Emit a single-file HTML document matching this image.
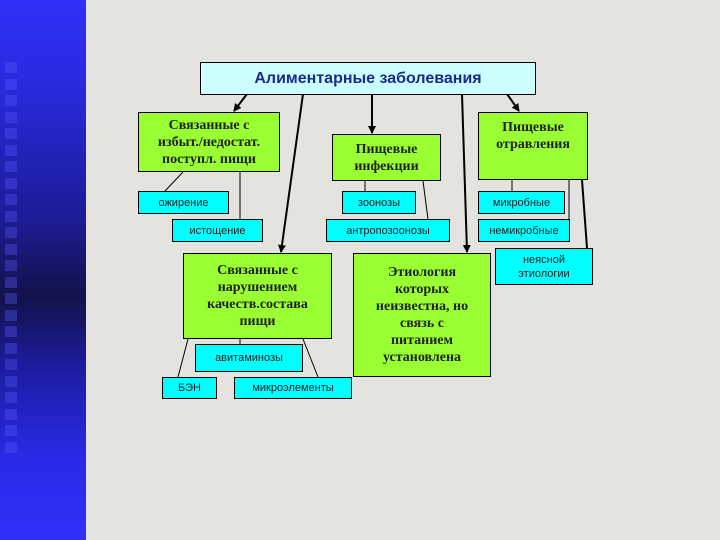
<!DOCTYPE html>
<html><head><meta charset="utf-8"><style>
body{margin:0;width:720px;height:540px;overflow:hidden;background:#e4e3e0;position:relative;font-family:"Liberation Serif",serif;}
.strip{position:absolute;left:0;top:0;width:86px;height:540px;background:linear-gradient(#3030f8 0%,#2a2ae0 15%,#1c1c98 40%,#12124a 55%,#1c1ca0 68%,#2a2ae8 85%,#3030f8 100%);}
.sq{position:absolute;left:5px;width:12px;height:11px;background:rgba(90,90,255,0.35);}
.b{position:absolute;box-sizing:border-box;border:1px solid #000;display:flex;align-items:center;justify-content:center;text-align:center;}
.g{background:#99ff33;font-weight:bold;font-size:14px;line-height:17px;color:#222;}
.c{background:#00ffff;font-family:"Liberation Sans",sans-serif;font-size:11px;color:#222;}
svg{position:absolute;left:0;top:0;}
</style></head><body>
<div class="strip"></div>
<div id="sqs"></div>
<svg width="720" height="540">
<defs><marker id="a" markerWidth="8" markerHeight="8" refX="7" refY="4" orient="auto" markerUnits="userSpaceOnUse"><path d="M0,0 L8,4 L0,8z" fill="#000"/></marker></defs>
<g stroke="#000" stroke-width="2" fill="none">
<line x1="247" y1="94" x2="234" y2="111" marker-end="url(#a)"/>
<line x1="303" y1="94" x2="281" y2="252" marker-end="url(#a)"/>
<line x1="372" y1="94" x2="372" y2="133" marker-end="url(#a)"/>
<line x1="462" y1="94" x2="467" y2="252" marker-end="url(#a)"/>
<line x1="507" y1="94" x2="519" y2="111" marker-end="url(#a)"/>
<line x1="582" y1="180" x2="587" y2="248"/>
</g>
<g stroke="#000" stroke-width="1">
<line x1="183" y1="172" x2="165" y2="191"/>
<line x1="240" y1="172" x2="240" y2="219"/>
<line x1="365" y1="181" x2="365" y2="191"/>
<line x1="423" y1="181" x2="428" y2="219"/>
<line x1="512" y1="180" x2="512" y2="191"/>
<line x1="569" y1="180" x2="569" y2="219"/>
<line x1="188" y1="339" x2="178" y2="377"/>
<line x1="240" y1="339" x2="240" y2="344"/>
<line x1="303" y1="339" x2="318" y2="377"/>
</g>
</svg>
<div class="b" style="left:200px;top:62px;width:336px;height:33px;background:#ccffff;font-family:'Liberation Sans',sans-serif;font-weight:bold;font-size:16px;color:#1a2a8a;">Алиментарные заболевания</div>
<div class="b g" style="left:138px;top:112px;width:142px;height:60px;">Связанные с<br>избыт./недостат.<br>поступл. пищи</div>
<div class="b g" style="left:332px;top:134px;width:109px;height:47px;">Пищевые<br>инфекции</div>
<div class="b g" style="left:478px;top:112px;width:110px;height:68px;align-items:flex-start;padding-top:6px;">Пищевые<br>отравления</div>
<div class="b c" style="left:138px;top:191px;width:91px;height:23px;">ожирение</div>
<div class="b c" style="left:172px;top:219px;width:91px;height:23px;">истощение</div>
<div class="b c" style="left:342px;top:191px;width:74px;height:23px;">зоонозы</div>
<div class="b c" style="left:326px;top:219px;width:124px;height:23px;">антропозоонозы</div>
<div class="b c" style="left:478px;top:191px;width:87px;height:23px;">микробные</div>
<div class="b c" style="left:478px;top:219px;width:92px;height:23px;">немикробные</div>
<div class="b c" style="left:495px;top:248px;width:98px;height:37px;line-height:14px;">неясной<br>этиологии</div>
<div class="b g" style="left:183px;top:253px;width:149px;height:86px;">Связанные с<br>нарушением<br>качеств.состава<br>пищи</div>
<div class="b g" style="left:353px;top:253px;width:138px;height:124px;">Этиология<br>которых<br>неизвестна, но<br>связь с<br>питанием<br>установлена</div>
<div class="b c" style="left:195px;top:344px;width:108px;height:28px;">авитаминозы</div>
<div class="b c" style="left:162px;top:377px;width:55px;height:22px;">БЭН</div>
<div class="b c" style="left:234px;top:377px;width:118px;height:22px;">микроэлементы</div>
<script>
var h='';for(var y=62;y<455;y+=16.5){h+='<div class="sq" style="top:'+Math.round(y)+'px"></div>';}
document.getElementById('sqs').innerHTML=h;
</script>
</body></html>
